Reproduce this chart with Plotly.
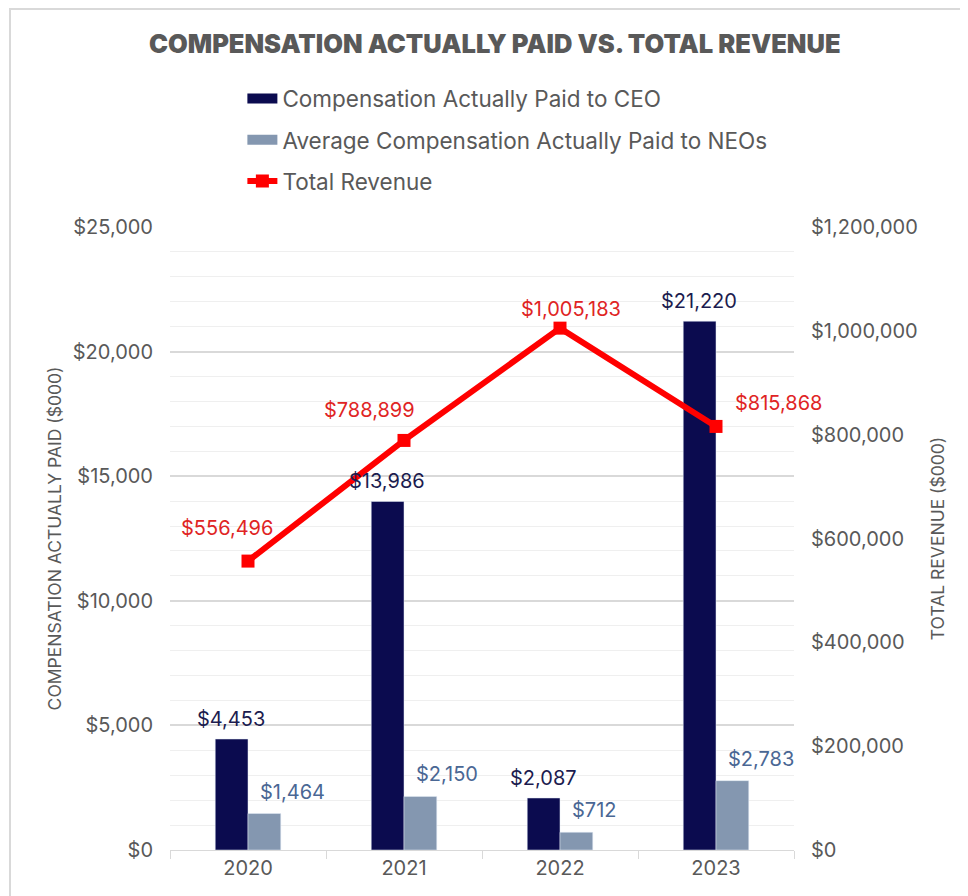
import plotly.graph_objects as go

years = ["2020", "2021", "2022", "2023"]
ceo_cap = [4453, 13986, 2087, 21220]
neo_cap = [1464, 2150, 712, 2783]
revenue = [556496, 788899, 1005183, 815868]

NAVY = "#0b0b4f"
SLATE = "#8497b0"
RED = "#ff0000"
GREY = "#595959"
FONT = "Inter"

fig = go.Figure()

fig.add_trace(go.Bar(x=years, y=ceo_cap, name="Compensation Actually Paid to CEO",
                     marker_color=NAVY, showlegend=False, yaxis="y"))
fig.add_trace(go.Bar(x=years, y=neo_cap, name="Average Compensation Actually Paid to NEOs",
                     marker_color=SLATE, showlegend=False, yaxis="y"))
fig.add_trace(go.Scatter(x=years, y=revenue, name="Total Revenue", mode="lines+markers",
                         line=dict(color=RED, width=6),
                         marker=dict(symbol="square", size=13, color=RED),
                         yaxis="y2", showlegend=False, cliponaxis=False))

# legend entries (wide swatches like the original)
fig.add_trace(go.Scatter(x=years[:1], y=[None], mode="lines", name="Compensation Actually Paid to CEO",
                         line=dict(color=NAVY, width=15), legendgroup="a"))
fig.add_trace(go.Scatter(x=years[:1], y=[None], mode="lines", name="Average Compensation Actually Paid to NEOs",
                         line=dict(color=SLATE, width=15), legendgroup="b"))
fig.add_trace(go.Scatter(x=years[:1], y=[None], mode="lines+markers", name="Total Revenue",
                         line=dict(color=RED, width=6),
                         marker=dict(symbol="square", size=13, color=RED), legendgroup="c"))

# labels; x given as category index so "2020" is not read as a position
annotations = []
for i, v in enumerate(ceo_cap):
    annotations.append(dict(x=i, y=v, xref="x", yref="y", text=f"${v:,}", showarrow=False,
                            xshift=-17, yshift=6, yanchor="bottom",
                            font=dict(family=FONT, size=20, color="#1c1c4f")))
for i, v in enumerate(neo_cap):
    annotations.append(dict(x=i, y=v, xref="x", yref="y", text=f"${v:,}", showarrow=False,
                            xshift=10, yshift=8, xanchor="left", yanchor="bottom",
                            font=dict(family=FONT, size=20, color="#4a6794")))
rev_shift = [(-21, 33), (-35, 30), (11, 19), (62, 23)]
for i, (v, (dx, dy)) in enumerate(zip(revenue, rev_shift)):
    annotations.append(dict(x=i, y=v, xref="x", yref="y2", text=f"${v:,}", showarrow=False,
                            xshift=dx, yshift=dy,
                            font=dict(family=FONT, size=20, color="#e02424")))

fig.update_layout(
    width=960, height=888,
    margin=dict(l=162, r=174, t=219, b=46, autoexpand=False),
    paper_bgcolor="white", plot_bgcolor="white",
    font=dict(family=FONT, color=GREY),
    title=dict(text="COMPENSATION ACTUALLY PAID VS. TOTAL REVENUE",
               x=0.507, xanchor="center", y=0.9595, yanchor="middle",
               font=dict(family=FONT, size=25.5, weight=900, color=GREY)),
    barmode="group", bargap=0.58, bargroupgap=0,
    legend=dict(x=0.116, xanchor="left", y=1.24, yanchor="top",
                font=dict(family=FONT, size=22.5, color=GREY),
                tracegroupgap=9, bgcolor="rgba(0,0,0,0)"),
    xaxis=dict(type="category", categoryorder="array", categoryarray=years, range=[-0.5, 3.5],
               showgrid=False, showline=True, linecolor="#d9d9d9",
               ticks="outside", ticklen=8, tickcolor="#d9d9d9", tickson="boundaries",
               tickangle=0, tickfont=dict(family=FONT, size=20, color=GREY)),
    yaxis=dict(range=[0, 25000], dtick=5000, tickprefix="$", tickformat=",",
               showgrid=True, gridcolor="#d9d9d9", gridwidth=1.5, zeroline=False,
               minor=dict(dtick=1000, showgrid=True, gridcolor="#efefef", gridwidth=1),
               tickfont=dict(family=FONT, size=20, color=GREY), ticklabelstandoff=16,
               title=dict(text="COMPENSATION ACTUALLY PAID ($000)", standoff=6,
                          font=dict(family=FONT, size=17.5, color=GREY))),
    yaxis2=dict(range=[0, 1200000], dtick=200000, tickprefix="$", tickformat=",",
                overlaying="y", side="right", showgrid=False, zeroline=False,
                tickfont=dict(family=FONT, size=20, color=GREY), ticklabelstandoff=16,
                title=dict(text="TOTAL REVENUE ($000)", standoff=14,
                           font=dict(family=FONT, size=17.5, color=GREY))),
    annotations=annotations,
    shapes=[dict(type="rect", xref="paper", yref="paper",
                 x0=-0.2564, x1=1.6, y0=-0.5, y1=1.35,
                 line=dict(color="#d9d9d9", width=2), fillcolor="rgba(0,0,0,0)", layer="below")],
)

fig.write_html("out.html")
